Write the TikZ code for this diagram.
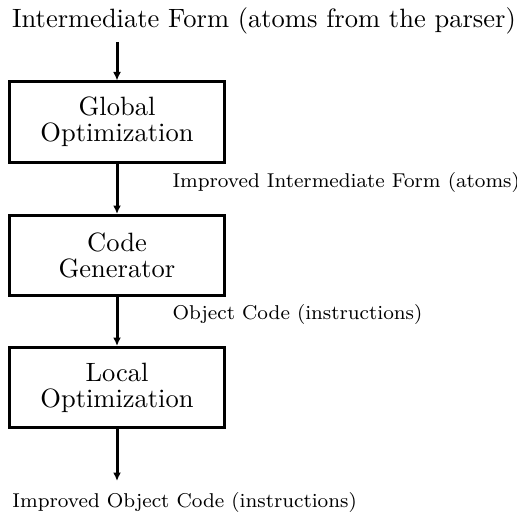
\documentclass[tikz,border=0pt]{standalone}
\usetikzlibrary{arrows.meta}
\begin{document}
\begin{tikzpicture}[x=0.4pt,y=-0.4pt,
  bigtext/.style={font=\fontsize{10.6}{10.4}\selectfont, inner sep=0pt},
  smalltext/.style={font=\fontsize{8}{9}\selectfont, inner sep=0pt, anchor=base west},
  stagebox/.style={draw, line width=1.2pt, minimum width=85.6pt, minimum height=32pt,
    inner sep=0pt, align=center, font=\fontsize{10.6}{10.4}\selectfont},
  flow/.style={line width=1.2pt, -{Latex[length=3.4pt,width=3.2pt]}}]
\useasboundingbox (0,0) rectangle (517,512);
\node[bigtext, anchor=base] (top) at (264,28) {Intermediate Form (atoms from the parser)};
\coordinate (s) at (117,42);
\node[stagebox] (b1) at (117,122) {Global\\Optimization};
\node[stagebox] (b2) at (117,255.5) {Code\\Generator};
\node[stagebox] (b3) at (117,387.5) {Local\\Optimization};
\coordinate (e) at (117,481);
\node[smalltext] (l1) at (172,187) {Improved Intermediate Form (atoms)};
\node[smalltext] (l2) at (172,319) {Object Code (instructions)};
\node[smalltext] (l3) at (12,507) {Improved Object Code (instructions)};
\draw[flow] (s) -- (b1.north);
\draw[flow] (b1) -- (b2);
\draw[flow] (b2) -- (b3);
\draw[flow] (b3) -- (e);
\end{tikzpicture}
\end{document}
